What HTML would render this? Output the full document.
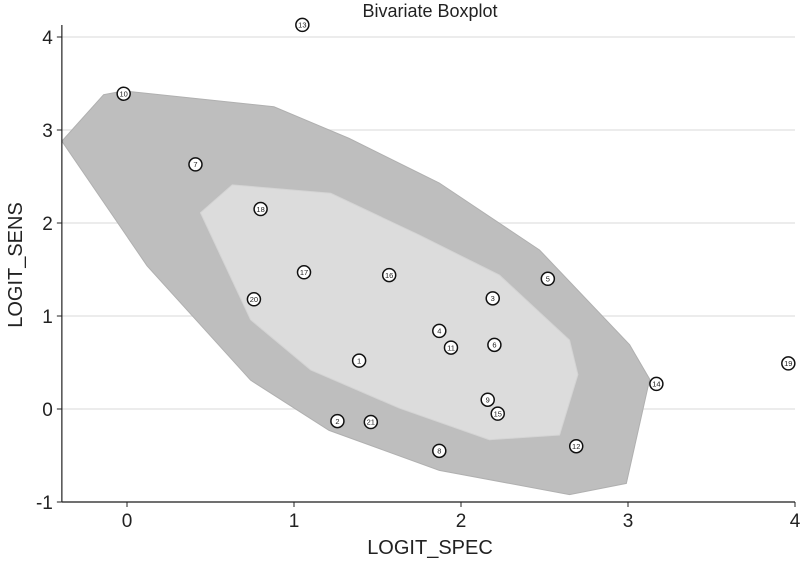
<!DOCTYPE html>
<html><head><meta charset="utf-8"><style>
body{margin:0;background:#fff;}
svg{display:block;font-family:"Liberation Sans",Arial,sans-serif;}
</style></head><body>
<svg id="chart" width="800" height="561" viewBox="0 0 800 561" xmlns="http://www.w3.org/2000/svg">
<rect width="800" height="561" fill="#fff"/>
<text x="430" y="17" font-size="18" text-anchor="middle" fill="#222">Bivariate Boxplot</text>
<g id="grid"></g>
<g id="hulls"></g>
<g id="axes"></g>
<g id="points"></g>
<text x="430" y="554" font-size="20" text-anchor="middle" fill="#222">LOGIT_SPEC</text>
<text transform="translate(22,265) rotate(-90)" font-size="20" text-anchor="middle" fill="#222">LOGIT_SENS</text>
</svg>
<script>
const xTicks=[0,1,2,3,4];
const yTicks=[-1,0,1,2,3,4];
const ids=[1,2,3,4,5,6,7,8,9,10,11,12,13,14,15,16,17,18,19,20,21];
const xVals=[1.39,1.26,2.19,1.87,2.52,2.20,0.41,1.87,2.16,-0.02,1.94,2.69,1.05,3.17,2.22,1.57,1.06,0.80,3.96,0.76,1.46];
const yVals=[0.52,-0.13,1.19,0.84,1.40,0.69,2.63,-0.45,0.10,3.39,0.66,-0.40,4.13,0.27,-0.05,1.44,1.47,2.15,0.49,1.18,-0.14];
const outerX=[-0.39,-0.14,-0.02,0.88,1.33,1.87,2.47,3.01,3.13,2.99,2.65,1.87,1.21,0.74,0.12];
const outerY=[2.88,3.38,3.42,3.25,2.91,2.43,1.71,0.69,0.32,-0.80,-0.92,-0.66,-0.23,0.31,1.54];
const innerX=[0.44,0.63,1.22,1.75,2.23,2.65,2.70,2.59,2.17,1.63,1.10,0.74];
const innerY=[2.11,2.41,2.32,1.87,1.44,0.74,0.37,-0.28,-0.33,0.01,0.42,0.96];
const X0=-0.39,X1=4;
const sx=v=>127+(v-0)*167;
const sy=v=>409-v*93;
const NS="http://www.w3.org/2000/svg";
function mk(tag,attrs,parent){const e=document.createElementNS(NS,tag);for(const k in attrs)e.setAttribute(k,attrs[k]);parent.appendChild(e);return e;}
const grid=document.getElementById('grid'),axes=document.getElementById('axes'),hulls=document.getElementById('hulls'),pts=document.getElementById('points');
yTicks.forEach(t=>{
  const g=mk('line',{x1:sx(X0),x2:sx(X1),y1:sy(t),y2:sy(t),stroke:'#e6e6e6','stroke-width':1.5},grid);
  
  
  const tk=mk('line',{x1:sx(X0)-5,x2:sx(X0),y1:sy(t),y2:sy(t),stroke:'#222'},axes);
  
  
  const tx=mk('text',{x:sx(X0)-9,y:sy(t)+7,'font-size':19,'text-anchor':'end',fill:'#222'},axes);
  tx.textContent=t;
  
  
});
xTicks.forEach(t=>{
  const tk=mk('line',{x1:sx(t),x2:sx(t),y1:sy(-1),y2:sy(-1)+5,stroke:'#222'},axes);
  
  
  const tx=mk('text',{x:sx(t),y:sy(-1)+25,'font-size':19,'text-anchor':'middle',fill:'#222'},axes);
  tx.textContent=t;
  
  
});
const ax=mk('line',{x1:sx(X0),x2:sx(X0),y1:25,y2:sy(-1),stroke:'#222','stroke-width':1.2},axes);


const axx=mk('line',{x1:sx(X0),x2:sx(X1),y1:sy(-1),y2:sy(-1),stroke:'#222','stroke-width':1.2},axes);


const op=mk('polygon',{points:outerX.map((v,i)=>sx(v)+','+sy(outerY[i])).join(' '),fill:'#bebebe',stroke:'#b0b0b0'},hulls);


const ip=mk('polygon',{points:innerX.map((v,i)=>sx(v)+','+sy(innerY[i])).join(' '),fill:'#dcdcdc',stroke:'#d4d4d4'},hulls);


ids.forEach((id,i)=>{
  const g=mk('g',{},pts);
  
  
  mk('circle',{cx:sx(xVals[i]),cy:sy(yVals[i]),r:6.5,fill:'#fff',stroke:'#111','stroke-width':1.5},g);
  const t=mk('text',{x:sx(xVals[i]),y:sy(yVals[i])+2.7,'font-size':7.5,'text-anchor':'middle',fill:'#222'},g);
  t.textContent=id;
});
</script>
</body></html>
